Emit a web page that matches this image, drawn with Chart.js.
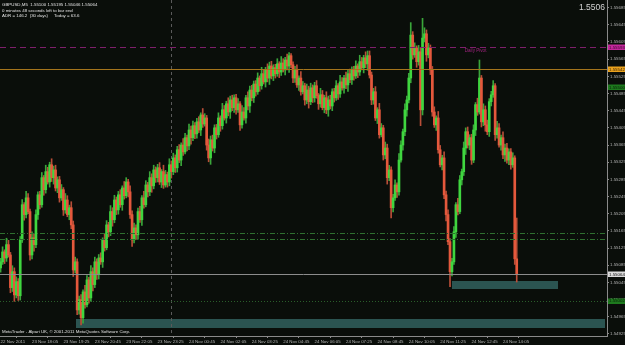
<!DOCTYPE html>
<html><head><meta charset="utf-8">
<script src="https://cdn.jsdelivr.net/npm/chart.js@4.4.1/dist/chart.umd.min.js"></script>
<style>html,body{margin:0;padding:0;background:#0a0e0a;overflow:hidden}canvas{display:block}</style>
</head><body><canvas id="c" width="625" height="345"></canvas>
<script>
// ---- data (GBPUSD M5) ----
const openP = [1.55079,1.55093,1.55116,1.55102,1.55133,1.55109,1.55033,1.55070,1.55016,1.55047,
1.55014,1.55144,1.55226,1.55203,1.55242,1.55210,1.55109,1.55149,1.55133,1.55203,
1.55249,1.55226,1.55289,1.55261,1.55303,1.55279,1.55319,1.55289,1.55307,1.55265,
1.55284,1.55242,1.55261,1.55214,1.55237,1.55203,1.55219,1.55179,1.55074,1.55093,
1.54981,1.55005,1.54963,1.55023,1.54993,1.55051,1.55009,1.55070,1.55040,1.55093,
1.55063,1.55102,1.55093,1.55144,1.55126,1.55179,1.55163,1.55210,1.55191,1.55237,
1.55214,1.55249,1.55226,1.55265,1.55247,1.55279,1.55256,1.55203,1.55144,1.55172,
1.55156,1.55210,1.55191,1.55242,1.55226,1.55272,1.55256,1.55289,1.55270,1.55307,
1.55289,1.55312,1.55279,1.55303,1.55272,1.55296,1.55279,1.55319,1.55303,1.55335,
1.55312,1.55354,1.55330,1.55365,1.55349,1.55382,1.55363,1.55400,1.55382,1.55410,
1.55391,1.55419,1.55400,1.55435,1.55414,1.55428,1.55365,1.55335,1.55377,1.55358,
1.55405,1.55389,1.55428,1.55410,1.55447,1.55428,1.55461,1.55442,1.55470,1.55452,
1.55475,1.55447,1.55461,1.55412,1.55442,1.55428,1.55475,1.55456,1.55493,1.55475,
1.55507,1.55489,1.55521,1.55503,1.55531,1.55512,1.55540,1.55521,1.55549,1.55526,
1.55545,1.55531,1.55554,1.55535,1.55556,1.55540,1.55563,1.55549,1.55573,1.55552,
1.55521,1.55540,1.55505,1.55521,1.55489,1.55503,1.55470,1.55493,1.55466,1.55498,
1.55475,1.55503,1.55480,1.55461,1.55482,1.55452,1.55475,1.55447,1.55470,1.55456,
1.55489,1.55475,1.55503,1.55484,1.55512,1.55498,1.55521,1.55505,1.55531,1.55517,
1.55540,1.55526,1.55549,1.55535,1.55559,1.55545,1.55568,1.55554,1.55573,1.55528,
1.55470,1.55489,1.55428,1.55447,1.55389,1.55405,1.55342,1.55358,1.55289,1.55307,
1.55219,1.55242,1.55272,1.55256,1.55330,1.55365,1.55396,1.55447,1.55470,1.55521,
1.55621,1.55575,1.55591,1.55559,1.55582,1.55447,1.55614,1.55624,1.55575,1.55591,
1.55540,1.55442,1.55412,1.55428,1.55354,1.55319,1.55335,1.55249,1.55203,1.55140,
1.55070,1.55093,1.55163,1.55226,1.55210,1.55284,1.55303,1.55358,1.55396,1.55365,
1.55382,1.55330,1.55400,1.55459,1.55442,1.55521,1.55419,1.55447,1.55412,1.55396,
1.55466,1.55482,1.55503,1.55389,1.55405,1.55365,1.55382,1.55342,1.55358,1.55330,
1.55349,1.55319,1.55335,1.55100];
const highP = [1.55101,1.55128,1.55121,1.55148,1.55143,1.55115,1.55084,1.55079,1.55058,1.55054,
1.55152,1.55238,1.55231,1.55257,1.55252,1.55216,1.55163,1.55158,1.55214,1.55256,
1.55257,1.55301,1.55294,1.55318,1.55313,1.55325,1.55333,1.55316,1.55318,1.55291,
1.55292,1.55273,1.55266,1.55252,1.55247,1.55225,1.55233,1.55188,1.55104,1.55100,
1.55013,1.55017,1.55028,1.55038,1.55061,1.55057,1.55084,1.55079,1.55104,1.55100,
1.55110,1.55114,1.55149,1.55159,1.55189,1.55185,1.55224,1.55219,1.55248,1.55244,
1.55257,1.55261,1.55270,1.55280,1.55289,1.55285,1.55270,1.55212,1.55183,1.55179,
1.55218,1.55222,1.55247,1.55257,1.55282,1.55278,1.55303,1.55298,1.55318,1.55314,
1.55320,1.55324,1.55308,1.55318,1.55306,1.55302,1.55333,1.55328,1.55346,1.55342,
1.55362,1.55366,1.55370,1.55380,1.55392,1.55388,1.55414,1.55409,1.55421,1.55417,
1.55427,1.55431,1.55440,1.55450,1.55438,1.55434,1.55379,1.55386,1.55388,1.55412,
1.55413,1.55440,1.55433,1.55462,1.55457,1.55467,1.55475,1.55479,1.55481,1.55482,
1.55483,1.55473,1.55466,1.55457,1.55452,1.55481,1.55489,1.55502,1.55504,1.55514,
1.55515,1.55533,1.55526,1.55546,1.55541,1.55546,1.55554,1.55558,1.55560,1.55552,
1.55553,1.55566,1.55559,1.55571,1.55566,1.55569,1.55577,1.55580,1.55578,1.55559,
1.55548,1.55552,1.55526,1.55536,1.55513,1.55509,1.55507,1.55502,1.55509,1.55505,
1.55511,1.55515,1.55485,1.55497,1.55492,1.55481,1.55489,1.55479,1.55481,1.55496,
1.55497,1.55515,1.55508,1.55527,1.55522,1.55527,1.55535,1.55540,1.55542,1.55547,
1.55548,1.55561,1.55554,1.55574,1.55569,1.55574,1.55582,1.55584,1.55584,1.55535,
1.55497,1.55501,1.55452,1.55462,1.55415,1.55411,1.55372,1.55367,1.55318,1.55314,
1.55250,1.55284,1.55277,1.55345,1.55375,1.55402,1.55461,1.55479,1.55532,1.55650,
1.55629,1.55603,1.55596,1.55597,1.55592,1.55660,1.55638,1.55633,1.55602,1.55598,
1.55548,1.55454,1.55433,1.55443,1.55364,1.55341,1.55349,1.55258,1.55214,1.55147,
1.55101,1.55175,1.55231,1.55241,1.55294,1.55309,1.55372,1.55405,1.55407,1.55389,
1.55390,1.55412,1.55464,1.55474,1.55563,1.55527,1.55461,1.55456,1.55423,1.55473,
1.55490,1.55515,1.55508,1.55420,1.55415,1.55388,1.55396,1.55367,1.55369,1.55356,
1.55357,1.55347,1.55340,1.55195];
const lowP = [1.55069,1.55087,1.55089,1.55094,1.55104,1.55021,1.55024,1.55001,1.55009,1.55003,
1.55004,1.55138,1.55190,1.55195,1.55205,1.55097,1.55100,1.55118,1.55126,1.55192,
1.55216,1.55220,1.55248,1.55253,1.55274,1.55267,1.55280,1.55274,1.55258,1.55254,
1.55232,1.55236,1.55201,1.55206,1.55198,1.55191,1.55170,1.55059,1.55067,1.54970,
1.54971,1.54946,1.54950,1.54985,1.54988,1.54997,1.55000,1.55025,1.55033,1.55052,
1.55053,1.55087,1.55080,1.55118,1.55121,1.55151,1.55154,1.55176,1.55184,1.55203,
1.55204,1.55220,1.55213,1.55239,1.55242,1.55244,1.55194,1.55129,1.55137,1.55145,
1.55146,1.55185,1.55178,1.55218,1.55221,1.55244,1.55247,1.55255,1.55263,1.55278,
1.55279,1.55273,1.55266,1.55264,1.55267,1.55267,1.55270,1.55288,1.55296,1.55301,
1.55302,1.55324,1.55317,1.55341,1.55344,1.55351,1.55354,1.55367,1.55375,1.55380,
1.55381,1.55394,1.55387,1.55406,1.55409,1.55353,1.55326,1.55320,1.55351,1.55347,
1.55379,1.55383,1.55397,1.55402,1.55423,1.55416,1.55433,1.55427,1.55445,1.55441,
1.55437,1.55441,1.55399,1.55404,1.55423,1.55416,1.55447,1.55441,1.55468,1.55464,
1.55479,1.55483,1.55490,1.55495,1.55507,1.55500,1.55512,1.55506,1.55519,1.55515,
1.55521,1.55525,1.55522,1.55527,1.55535,1.55528,1.55540,1.55534,1.55545,1.55510,
1.55511,1.55499,1.55492,1.55481,1.55484,1.55458,1.55461,1.55451,1.55459,1.55464,
1.55465,1.55474,1.55448,1.55453,1.55447,1.55440,1.55438,1.55432,1.55449,1.55445,
1.55465,1.55469,1.55471,1.55476,1.55493,1.55486,1.55496,1.55490,1.55510,1.55506,
1.55516,1.55520,1.55522,1.55527,1.55540,1.55533,1.55545,1.55539,1.55521,1.55459,
1.55460,1.55422,1.55415,1.55381,1.55384,1.55330,1.55333,1.55274,1.55282,1.55195,
1.55209,1.55236,1.55243,1.55248,1.55325,1.55353,1.55387,1.55432,1.55463,1.55510,
1.55565,1.55569,1.55546,1.55551,1.55410,1.55435,1.55605,1.55560,1.55568,1.55529,
1.55432,1.55406,1.55399,1.55346,1.55314,1.55307,1.55240,1.55188,1.55133,1.55035,
1.55060,1.55087,1.55150,1.55202,1.55205,1.55272,1.55294,1.55343,1.55358,1.55354,
1.55320,1.55324,1.55387,1.55434,1.55437,1.55407,1.55410,1.55397,1.55389,1.55385,
1.55456,1.55476,1.55376,1.55381,1.55360,1.55353,1.55333,1.55327,1.55323,1.55319,
1.55309,1.55313,1.55087,1.55046];
const closeP = [1.55093,1.55116,1.55102,1.55133,1.55109,1.55033,1.55070,1.55016,1.55047,1.55014,
1.55144,1.55226,1.55203,1.55242,1.55210,1.55109,1.55149,1.55133,1.55203,1.55249,
1.55226,1.55289,1.55261,1.55303,1.55279,1.55319,1.55289,1.55307,1.55265,1.55284,
1.55242,1.55261,1.55214,1.55237,1.55203,1.55219,1.55179,1.55074,1.55093,1.54981,
1.55005,1.54963,1.55023,1.54993,1.55051,1.55009,1.55070,1.55040,1.55093,1.55063,
1.55102,1.55093,1.55144,1.55126,1.55179,1.55163,1.55210,1.55191,1.55237,1.55214,
1.55249,1.55226,1.55265,1.55247,1.55279,1.55256,1.55203,1.55144,1.55172,1.55156,
1.55210,1.55191,1.55242,1.55226,1.55272,1.55256,1.55289,1.55270,1.55307,1.55289,
1.55312,1.55279,1.55303,1.55272,1.55296,1.55279,1.55319,1.55303,1.55335,1.55312,
1.55354,1.55330,1.55365,1.55349,1.55382,1.55363,1.55400,1.55382,1.55410,1.55391,
1.55419,1.55400,1.55435,1.55414,1.55428,1.55365,1.55335,1.55377,1.55358,1.55405,
1.55389,1.55428,1.55410,1.55447,1.55428,1.55461,1.55442,1.55470,1.55452,1.55475,
1.55447,1.55461,1.55412,1.55442,1.55428,1.55475,1.55456,1.55493,1.55475,1.55507,
1.55489,1.55521,1.55503,1.55531,1.55512,1.55540,1.55521,1.55549,1.55526,1.55545,
1.55531,1.55554,1.55535,1.55556,1.55540,1.55563,1.55549,1.55573,1.55552,1.55521,
1.55540,1.55505,1.55521,1.55489,1.55503,1.55470,1.55493,1.55466,1.55498,1.55475,
1.55503,1.55480,1.55461,1.55482,1.55452,1.55475,1.55447,1.55470,1.55456,1.55489,
1.55475,1.55503,1.55484,1.55512,1.55498,1.55521,1.55505,1.55531,1.55517,1.55540,
1.55526,1.55549,1.55535,1.55559,1.55545,1.55568,1.55554,1.55573,1.55528,1.55470,
1.55489,1.55428,1.55447,1.55389,1.55405,1.55342,1.55358,1.55289,1.55307,1.55219,
1.55242,1.55272,1.55256,1.55330,1.55365,1.55396,1.55447,1.55470,1.55521,1.55621,
1.55575,1.55591,1.55559,1.55582,1.55447,1.55614,1.55624,1.55575,1.55591,1.55540,
1.55442,1.55412,1.55428,1.55354,1.55319,1.55335,1.55249,1.55203,1.55140,1.55070,
1.55093,1.55163,1.55226,1.55210,1.55284,1.55303,1.55358,1.55396,1.55365,1.55382,
1.55330,1.55400,1.55459,1.55442,1.55521,1.55419,1.55447,1.55412,1.55396,1.55466,
1.55482,1.55503,1.55389,1.55405,1.55365,1.55382,1.55342,1.55358,1.55330,1.55349,
1.55319,1.55335,1.55100,1.55064];

// time-axis labels (bar index -> label)
const xTickIdx = [0,16,32,48,64,80,96,112,128,144,160,176,192,208,224,240,256];
const xTickLabels = ["22 Nov 2011","23 Nov 18:05","23 Nov 19:25","23 Nov 20:45","23 Nov 22:05","23 Nov 23:25",
  "24 Nov 00:45","24 Nov 02:05","24 Nov 03:25","24 Nov 04:45","24 Nov 06:05","24 Nov 07:25",
  "24 Nov 08:45","24 Nov 10:05","24 Nov 11:25","24 Nov 12:45","24 Nov 14:05"];
// price-axis labels
const yTickValues = [1.55685,1.55645,1.55605,1.55565,1.55525,1.55485,1.55445,1.55405,1.55365,1.55325,
  1.55285,1.55245,1.55205,1.55165,1.55125,1.55085,1.55045,1.55005,1.54965,1.54925];

// chart objects
const pivotLevel = 1.55593, orangeLevel = 1.55542, greenLevel = 1.55500;
const dashLevels = [1.55160, 1.55146];
const bidLevel = 1.55064, dottedLevel = 1.55002;
const daySeparatorIdx = 87;
const zoneStartIdx = [38.4, 230], zoneEndIdx = [308, 284];
const zoneHigh = [1.54961, 1.55049], zoneLow = [1.54940, 1.55030];
const headerLines = ["GBPUSD,M5  1.55100 1.55195 1.55046 1.55064",
  "0 minutes 48 seconds left to bar end",
  "ADR = 146.2  (30 days)     Today = 63.6"];
const bigPrice = "1.5506";
const footerText = "MetaTrader - Alpari UK, \u00A9 2001-2011 MetaQuotes Software Corp.";

const FONT = '"Liberation Sans", Arial, sans-serif';
const idx = closeP.map((_, i) => i);
const isUp = i => closeP[i] >= openP[i];

const overlay = {
  id: 'overlay',
  beforeDraw(chart) {
    const c = chart.ctx; c.save(); c.fillStyle = '#0a0e0a'; c.fillRect(0, 0, chart.width, chart.height); c.restore();
  },
  beforeDatasetsDraw(chart) {
    const {ctx, chartArea: a, scales: {x, y}} = chart;
    ctx.save();
    ctx.beginPath(); ctx.rect(a.left, a.top, a.right - a.left, a.bottom - a.top); ctx.clip();
    ctx.fillStyle = '#2b5451';
    for (let k = 0; k < zoneStartIdx.length; k++) {
      const x0 = x.getPixelForValue(zoneStartIdx[k]), x1 = x.getPixelForValue(zoneEndIdx[k]);
      const y0 = y.getPixelForValue(zoneHigh[k]), y1 = y.getPixelForValue(zoneLow[k]);
      ctx.fillRect(Math.round(x0), Math.round(y0), Math.round(x1 - x0), Math.round(y1 - y0));
    }
    ctx.strokeStyle = '#5a5a5a'; ctx.lineWidth = 1; ctx.setLineDash([3, 3]);
    const sx = Math.round(x.getPixelForValue(daySeparatorIdx)) + 0.5;
    ctx.beginPath(); ctx.moveTo(sx, a.top); ctx.lineTo(sx, a.bottom); ctx.stroke();
    ctx.restore();
  },
  afterDatasetsDraw(chart) {
    const {ctx, chartArea: a, scales: {x, y}} = chart;
    ctx.save();
    ctx.beginPath(); ctx.rect(a.left, a.top, a.right - a.left, a.bottom - a.top); ctx.clip();
    const hl = (p, color, dash) => {
      const py = Math.round(y.getPixelForValue(p)) + 0.5;
      ctx.strokeStyle = color; ctx.setLineDash(dash); ctx.lineWidth = 1;
      ctx.beginPath(); ctx.moveTo(a.left, py); ctx.lineTo(a.right, py); ctx.stroke();
    };
    hl(pivotLevel, '#7e1f6b', [6, 4]);
    hl(orangeLevel, '#a4741c', []);
    dashLevels.forEach(p => hl(p, '#2f6f2f', [5, 2, 1, 2]));
    hl(bidLevel, '#8c8c8c', []);
    hl(dottedLevel, '#2a5e2a', [1, 2]);
    ctx.setLineDash([]);
    ctx.font = '4.6px ' + FONT; ctx.textBaseline = 'middle'; ctx.textAlign = 'left';
    ctx.fillStyle = '#a0237f';
    ctx.fillText('Daily Pivot', x.getPixelForValue(236.5), y.getPixelForValue(pivotLevel) + 3.5);
    ctx.restore();
  },
  afterDraw(chart) {
    const {ctx, chartArea: a, scales: {y}} = chart;
    ctx.save();
    const box = (p, bg, fg) => {
      const py = y.getPixelForValue(p);
      ctx.fillStyle = bg; ctx.fillRect(a.right + 1, Math.round(py) - 2.5, 20, 5.5);
      ctx.fillStyle = fg; ctx.font = '4.4px ' + FONT; ctx.textAlign = 'left'; ctx.textBaseline = 'middle';
      ctx.fillText(p.toFixed(5), a.right + 2, py + 0.3);
    };
    box(pivotLevel, '#c4289c', '#3a0630');
    box(orangeLevel, '#eaa21e', '#3a2400');
    box(greenLevel, '#1e7a1e', '#062006');
    box(bidLevel, '#dcdcdc', '#101010');
    box(dottedLevel, '#1e7a1e', '#062006');
    ctx.fillStyle = '#e2e2e2'; ctx.textAlign = 'left'; ctx.textBaseline = 'middle';
    ctx.font = '4.4px ' + FONT;
    headerLines.forEach((t, k) => ctx.fillText(t, 2, 4.7 + k * 5.6));
    ctx.fillText(footerText, 2, 332);
    ctx.font = '8.5px ' + FONT; ctx.textAlign = 'right'; ctx.fillStyle = '#d4d4d4';
    ctx.fillText(bigPrice, a.right - 2, 7.5);
    ctx.restore();
  }
};

new Chart(document.getElementById('c'), {
  type: 'bar',
  data: { datasets: [
    { label: 'bodies', data: idx.map(i => ({x: i, y: [openP[i], closeP[i]]})),
      backgroundColor: idx.map(i => isUp(i) ? '#3fd63f' : '#e4583c'),
      barThickness: 2, grouped: false, order: 1, minBarLength: 1, borderWidth: 0 },
    { label: 'wicks', data: idx.map(i => ({x: i, y: [lowP[i], highP[i]]})),
      backgroundColor: idx.map(i => isUp(i) ? '#3aa63a' : '#b84e38'),
      barThickness: 1, grouped: false, order: 2, borderWidth: 0 }
  ]},
  options: {
    responsive: false, animation: false, devicePixelRatio: 1,
    layout: { padding: 0 },
    plugins: { legend: { display: false }, tooltip: { enabled: false } },
    scales: {
      x: { type: 'linear', min: -0.31, max: 309, offset: false,
        afterBuildTicks(s) { s.ticks = xTickIdx.map(v => ({ value: v })); },
        afterFit(s) { s.height = 9; s.paddingLeft = 0; s.paddingRight = 0; },
        ticks: { autoSkip: false, maxRotation: 0, minRotation: 0, align: 'start', padding: 1,
          font: { size: 4.4, family: FONT }, color: '#b4b4b4', callback: (v, i) => xTickLabels[i] },
        grid: { drawOnChartArea: false, tickLength: 2, color: '#8a8a8a' },
        border: { color: '#8a8a8a' } },
      y: { position: 'right', min: 1.549203, max: 1.557027,
        afterBuildTicks(s) { s.ticks = yTickValues.map(v => ({ value: v })); },
        afterFit(s) { s.width = 18; s.paddingTop = 0; s.paddingBottom = 0; },
        ticks: { font: { size: 4.4, family: FONT }, color: '#b4b4b4', padding: 1, callback: v => v.toFixed(5) },
        grid: { drawOnChartArea: false, tickLength: 2, color: '#8a8a8a' },
        border: { color: '#8a8a8a' } }
    }
  },
  plugins: [overlay]
});
</script>
</body></html>
